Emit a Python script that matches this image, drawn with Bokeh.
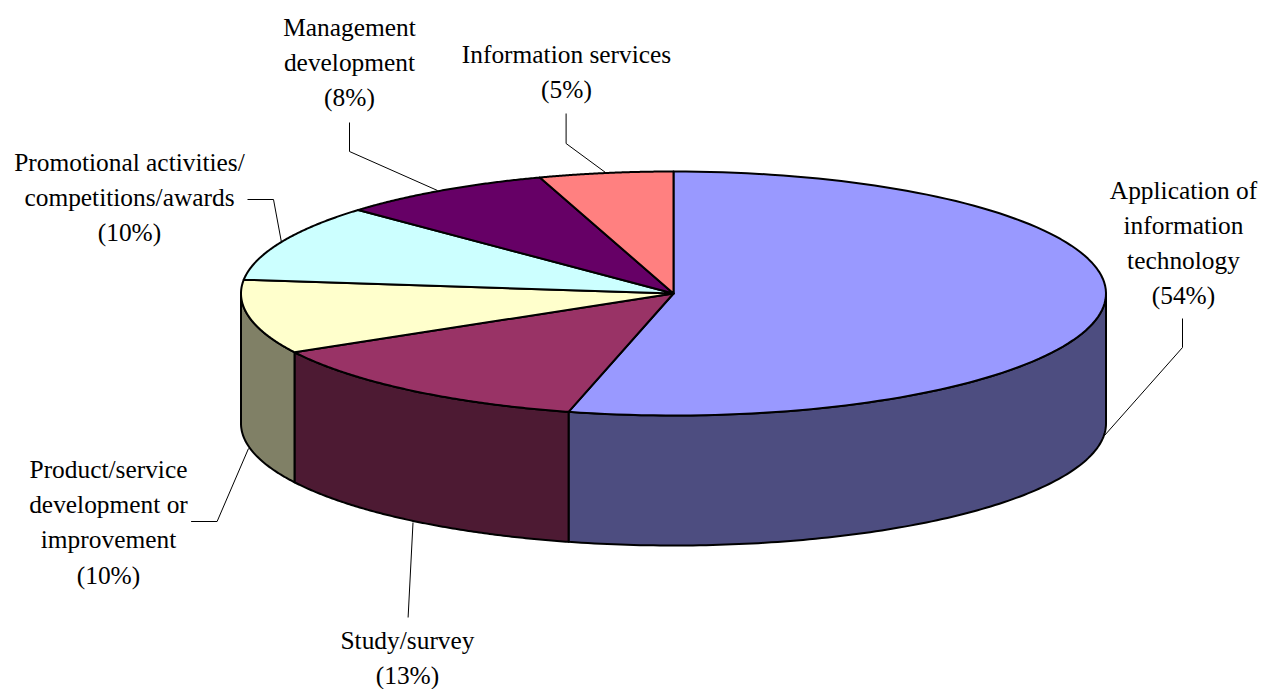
import numpy as np
from bokeh.plotting import figure
from bokeh.models import Range1d
from bokeh.core.properties import value
from bokeh.embed import file_html
from bokeh.resources import INLINE

categories = ["Application of information technology", "Study/survey",
              "Product/service development or improvement",
              "Promotional activities/competitions/awards",
              "Management development", "Information services"]
shares = [53.9, 13.1, 9.8, 10.2, 8.0, 5.0]
top_colors = ["#9999FF", "#993366", "#FFFFCC", "#CCFFFF", "#660066", "#FF8080"]
side_colors = ["#4D4D80", "#4D1A33", "#808066", "#668080", "#330033", "#804040"]

label_lines = [
    ["Application of", "information", "technology", "(54%)"],
    ["Study/survey", "(13%)"],
    ["Product/service", "development or", "improvement", "(10%)"],
    ["Promotional activities/", "competitions/awards", "(10%)"],
    ["Management", "development", "(8%)"],
    ["Information services", "(5%)"],
]
label_x = [1183, 407, 108, 129, 349, 566]
label_y0 = [189, 639.5, 468.5, 161.5, 26.5, 53.5]
line_height = 35.2
leaders = [
    ([1182, 1182, 1104], [318, 347, 435]),
    ([407.6, 412.5], [617, 522]),
    ([190.6, 216.6, 248], [521, 521, 448]),
    ([247, 273, 281], [199, 199, 242]),
    ([349, 349, 437], [122, 151, 190]),
    ([565.6, 565.6, 605], [113, 143, 172]),
]

CX, CY, RX, RY, DEPTH = 673.0, 293.0, 432.5, 122.0, 130.0
W, H = 1261, 689

p = figure(width=W, height=H, output_backend="svg", toolbar_location=None,
           x_range=Range1d(0, W), y_range=Range1d(H, 0),
           x_axis_type="linear", min_border=0, outline_line_color=None,
           background_fill_color="white", border_fill_color="white")
p.axis.visible = False
p.grid.visible = False


def rim(a0, a1, n=120):
    a = np.radians(np.linspace(a0, a1, n))
    return CX + RX * np.sin(a), CY - RY * np.cos(a)


edges = np.concatenate([[0], np.cumsum(shares)]) * 360 / sum(shares)

# side walls (front half only: 90 to 270 degrees clockwise from the top)
for i in range(len(shares)):
    a0, a1 = max(edges[i], 90), min(edges[i + 1], 270)
    if a1 <= a0:
        continue
    x, y = rim(a0, a1)
    xs = np.concatenate([x, x[::-1]])
    ys = np.concatenate([y, y[::-1] + DEPTH])
    p.patch(xs, ys, fill_color=side_colors[i], line_color="black", line_width=2, line_join="round")

# top faces
for i in range(len(shares)):
    x, y = rim(edges[i], edges[i + 1])
    xs = np.concatenate([[CX], x, [CX]])
    ys = np.concatenate([[CY], y, [CY]])
    p.patch(xs, ys, fill_color=top_colors[i], line_color="black", line_width=2, line_join="round")

# leader lines
for lx, ly in leaders:
    p.line(lx, ly, line_color="black", line_width=1)

# labels
tx, ty, tt = [], [], []
for cx, y0, lines in zip(label_x, label_y0, label_lines):
    for k, s in enumerate(lines):
        tx.append(cx)
        ty.append(y0 + k * line_height)
        tt.append(s)
p.text(tx, ty, text=tt, text_font=value("Liberation Serif"), text_font_size="25.4px",
       text_color="black", text_align="center", text_baseline="middle")

open("out.html", "w").write(file_html(p, INLINE))
